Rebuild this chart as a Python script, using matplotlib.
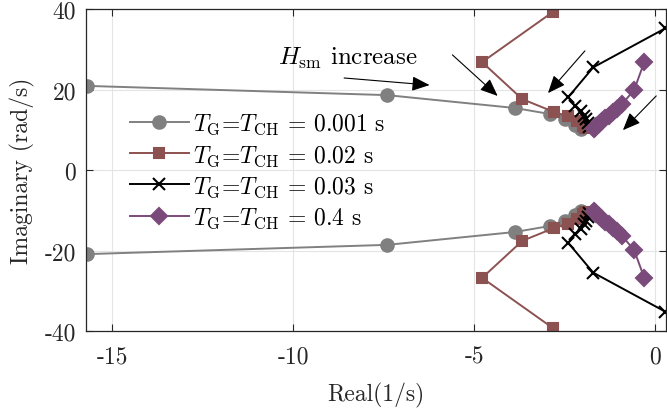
import numpy as np
import matplotlib
matplotlib.use('Agg')
import matplotlib.pyplot as plt
from matplotlib.patches import FancyArrowPatch

plt.rcParams['font.family'] = 'serif'
plt.rcParams['font.serif'] = ['cmr10']
plt.rcParams['mathtext.fontset'] = 'cm'
plt.rcParams['axes.unicode_minus'] = False
plt.rcParams['axes.formatter.use_mathtext'] = False

# root-locus points (upper half, lower half is the conjugate)
re_001 = [-15.7, -7.4, -3.87, -2.9, -2.5, -2.22, -2.05]
im_001 = [20.9, 18.6, 15.4, 13.9, 12.7, 11.3, 10.3]

re_002 = [-2.82, -4.78, -3.67, -2.79, -2.4, -2.15, -2.0, -1.95]
im_002 = [39.3, 26.8, 17.6, 14.4, 13.3, 12.1, 11.0, 10.5]

re_003 = [0.28, -1.71, -2.4, -2.2, -2.06, -1.97, -1.91, -1.86, -1.83]
im_003 = [35.2, 25.5, 18.1, 15.8, 14.6, 13.4, 12.6, 11.6, 10.7]

re_04 = [-0.30, -0.58, -0.91, -1.05, -1.17, -1.28, -1.38, -1.47, -1.55, -1.62, -1.67, -1.70]
im_04 = [26.8, 19.9, 16.4, 15.2, 14.3, 13.5, 12.8, 12.1, 11.5, 10.9, 10.4, 10.1]

labels = [r'$T_\mathrm{G}$=$T_\mathrm{CH}$ = 0.001 s',
          r'$T_\mathrm{G}$=$T_\mathrm{CH}$ = 0.02 s',
          r'$T_\mathrm{G}$=$T_\mathrm{CH}$ = 0.03 s',
          r'$T_\mathrm{G}$=$T_\mathrm{CH}$ = 0.4 s']

fig = plt.figure(figsize=(6.67, 4.10), dpi=100)
ax = fig.add_axes([86/667, 1-332/410, 580/667, 322/410])

series = [
    (re_001, im_001, '#808080', 'o', 9, '#808080'),
    (re_002, im_002, '#8c5151', 's', 7.5, '#8c5151'),
    (re_003, im_003, '#000000', 'x', 9, 'none'),
    (re_04, im_04, '#7a4b7a', 'D', 8, '#7a4b7a'),
]
for (re, im, c, mk, ms, fc), lab in zip(series, labels):
    re = np.array(re)
    im = np.array(im)
    ax.plot(re, im, color=c, marker=mk, ms=ms, mfc=fc, mec=c, lw=1.4, mew=1.5, label=lab)
    ax.plot(re, -im, color=c, marker=mk, ms=ms, mfc=fc, mec=c, lw=1.4, mew=1.5)

ax.set_xlim(-15.72, 0.3)
ax.set_ylim(-40, 40)
ax.set_xticks([-15, -10, -5, 0])
ax.set_yticks([-40, -20, 0, 20, 40])
ax.grid(True, color='#e4e4e4', lw=0.8)
ax.set_axisbelow(True)
ax.tick_params(direction='in', top=True, right=True, length=5, labelsize=17,
               colors='#262626', pad=7)
ax.tick_params(axis='x', pad=10)
for s in ax.spines.values():
    s.set_color('#262626')
    s.set_linewidth(0.9)

ax.set_xlabel('Real(1/s)', fontsize=17, color='#262626', labelpad=11)
ax.set_ylabel('Imaginary (rad/s)', fontsize=17, color='#262626', labelpad=7)

ax.text(-10.42, 26.3, r'$H_\mathrm{sm}$ increase', fontsize=18, va='baseline')

arrows = [((-8.59, 22.86), (-6.23, 21.1)),
          ((-5.60, 28.6), (-4.35, 18.4)),
          ((-1.94, 29.6), (-2.96, 19.1)),
          ((0.03, 18.4), (-0.89, 9.9))]
for a, b in arrows:
    ax.add_patch(FancyArrowPatch(a, b, arrowstyle='-|>,head_length=0.6,head_width=0.25',
                                 mutation_scale=18, color='black', lw=0.8,
                                 shrinkA=0, shrinkB=0))

ax.legend(loc='upper left', bbox_to_anchor=(0.075, 0.68), frameon=False, fontsize=17,
          handlelength=2.5, labelspacing=0.29, handletextpad=0.2, borderaxespad=0,
          borderpad=0)

fig.savefig('out.png', dpi=100)
